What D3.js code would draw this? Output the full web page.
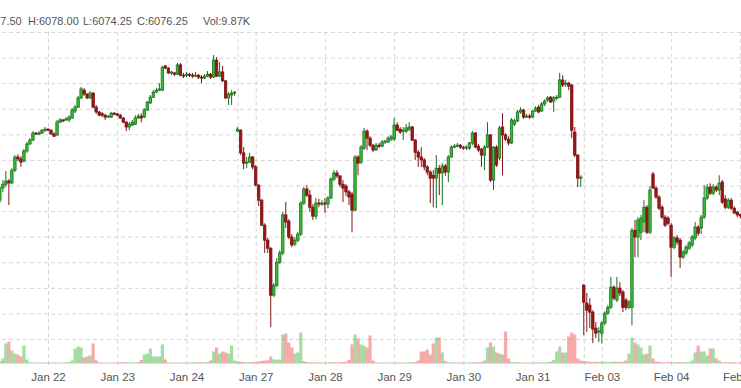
<!DOCTYPE html>
<html lang="en">
<head>
<meta charset="UTF-8">
<title>ES 1h</title>
<script src="https://cdn.jsdelivr.net/npm/d3@7/dist/d3.min.js"></script>
<style>
    html, body { margin: 0; padding: 0; background: #fff; }
    svg { display: block; font-family: Arial, "Liberation Sans", sans-serif; }
    .grid line { stroke: #d6d6d6; stroke-dasharray: 4,3; }
    .grid path { display: none; }
    .xlabels path, .xlabels line { display: none; }
    .xlabels text { fill: #555; font-size: 11.5px; }
    .legend { fill: #555; font-size: 11px; }
</style>
</head>
<body>
<svg width="741" height="388"></svg>
<script>
// trading hours (ET) of each session block
var jan21Hours = [7, 8, 9, 10, 11, 12, 13, 14, 15, 16];
var dayHours = [0, 1, 2, 3, 4, 5, 6, 7, 8, 9, 10, 11, 12, 13, 14, 15, 16];
var eveHours = [18, 19, 20, 21, 22, 23];
var lastHours = [0];

var sessions = [
    ['2025-01-21', jan21Hours], ['2025-01-21', eveHours],
    ['2025-01-22', dayHours], ['2025-01-22', eveHours],
    ['2025-01-23', dayHours], ['2025-01-23', eveHours],
    ['2025-01-24', dayHours],
    ['2025-01-26', eveHours],
    ['2025-01-27', dayHours], ['2025-01-27', eveHours],
    ['2025-01-28', dayHours], ['2025-01-28', eveHours],
    ['2025-01-29', dayHours], ['2025-01-29', eveHours],
    ['2025-01-30', dayHours], ['2025-01-30', eveHours],
    ['2025-01-31', dayHours],
    ['2025-02-02', eveHours],
    ['2025-02-03', dayHours], ['2025-02-03', eveHours],
    ['2025-02-04', dayHours], ['2025-02-04', eveHours],
    ['2025-02-05', lastHours]
];

var opens = [
    6088.5, 6098, 6101, 6103.5, 6102, 6112, 6122.25, 6120.75, 6119, 6127,
    6132.5, 6135.5, 6141, 6140.25, 6141, 6143.25,
    6144, 6143.25, 6140.25, 6139.5, 6149.5, 6151.25, 6151.25, 6151.25, 6152.75, 6158.25, 6161.25, 6168.5, 6174.5, 6171.5, 6168.5, 6172.25, 6161.25,
    6157.5, 6156, 6155, 6153.5, 6153.5, 6156.5,
    6156, 6155, 6152.75, 6149.5, 6145.75, 6147.25, 6148, 6152.75, 6154.25, 6153.5, 6159, 6164.5, 6169, 6173, 6174.5, 6174.5, 6193.5,
    6191.75, 6188, 6188, 6187, 6194.25, 6186.25,
    6186.25, 6187, 6186.25, 6185.5, 6186.25, 6184.75, 6184, 6185.5, 6187, 6184.75, 6198, 6185.5, 6188.75, 6181.75, 6168.5, 6170.75, 6172.25,
    6142.5, 6143.25, 6125.5, 6117.5, 6118.25, 6122.25,
    6114.5, 6100.25, 6088.5, 6069, 6057.25, 6051, 6014.25, 6022, 6040, 6047.25, 6077, 6072.25, 6059.75, 6054.25, 6057.25, 6062, 6086.25,
    6097.25, 6092.5, 6083, 6076, 6086.25, 6085.5,
    6086.25, 6085.5, 6090.25, 6105, 6109.75, 6107.5, 6101, 6099.5, 6095, 6093.25, 6080.75, 6122.25, 6118.25, 6129.25, 6142.5, 6137, 6131.5,
    6127.75, 6131.5, 6130.75, 6134, 6134, 6136.25,
    6136.25, 6147.25, 6144, 6142.5, 6142.5, 6144, 6145.75, 6135.5, 6126, 6122.25, 6120, 6114.5, 6110.5, 6108, 6105.75, 6113.5, 6109.75,
    6115.25, 6110.5, 6122.25, 6130, 6130.75, 6131.5,
    6130, 6129.25, 6129.25, 6133.25, 6141, 6130.75, 6128.5, 6123.75, 6130, 6139.5, 6104.25, 6130, 6121.5, 6145.75, 6139.5, 6136.25, 6133.25,
    6148, 6150.5, 6157.5, 6159, 6153.5, 6154.25,
    6153.5, 6158.25, 6161.25, 6158.25, 6163.75, 6166.75, 6169, 6166, 6168.5, 6169, 6182.5, 6179.25, 6180, 6178.5, 6141.75, 6123.75, 6105.75,
    6022, 6008, 6006.5, 6001, 5988.5, 5985.5,
    5984.5, 5992.5, 6000.25, 6004.75, 6020.5, 6010.5, 6019.75, 6016.75, 6010.5, 6004.75, 6004.75, 6065, 6059.75, 6063.5, 6071.5, 6083, 6063.5,
    6109, 6098, 6091, 6083, 6075.25, 6074.5,
    6069, 6051.75, 6059, 6057.25, 6044, 6047.25, 6051, 6053.5, 6059, 6067.5, 6066.75, 6075.25, 6090.25, 6098.75, 6094, 6098.75, 6096.5,
    6102.75, 6089.5, 6083, 6088.5, 6082.25, 6079.25,
    6077.5
];

var highs = [
    6099.5, 6104.25, 6111.25, 6105, 6113.5, 6123.75, 6124.5, 6123, 6128.5, 6134,
    6137, 6142.5, 6141.75, 6142.5, 6144, 6145.75,
    6145, 6144, 6141.75, 6151.25, 6152.75, 6152, 6153.5, 6155, 6160.5, 6163, 6170, 6177, 6176.25, 6172.25, 6173.75, 6173, 6163,
    6158.25, 6157.5, 6156, 6155, 6157.5, 6157.5,
    6156.5, 6156, 6153.5, 6150.5, 6149.5, 6151.25, 6155, 6156, 6156.5, 6160.5, 6166, 6170.75, 6174.5, 6176.25, 6180, 6193.5, 6194.25,
    6192.5, 6189.5, 6188.75, 6195.75, 6195.75, 6188,
    6188.75, 6188, 6188, 6188.75, 6187, 6186.25, 6187, 6189.5, 6188, 6202, 6200.5, 6196.5, 6193.5, 6182.5, 6173, 6174.5, 6173.75,
    6145.75, 6144, 6130, 6122.25, 6125.5, 6123,
    6116, 6101, 6089.5, 6070.5, 6059, 6051.75, 6023.75, 6043.25, 6049.5, 6079.25, 6087, 6073.75, 6062, 6059.75, 6063.5, 6087.75, 6098.75,
    6100.25, 6096.5, 6085.5, 6090.25, 6089.5, 6088.5,
    6090.25, 6091.75, 6106.5, 6112, 6112, 6108, 6104.25, 6101, 6096.5, 6095, 6123.75, 6123.75, 6131.5, 6145, 6144, 6138.5, 6132.5,
    6133.25, 6133.25, 6135.5, 6135.5, 6138.5, 6139.5,
    6152.75, 6149.5, 6145.75, 6145.75, 6148, 6149.5, 6146.5, 6136.25, 6127.75, 6130, 6121.5, 6116, 6112, 6112, 6123.75, 6116, 6117.5,
    6116.75, 6123.75, 6131.5, 6132.5, 6133.25, 6132.5,
    6130.75, 6131.5, 6134, 6142.5, 6141.75, 6132.5, 6129.25, 6131.5, 6149.5, 6140.25, 6130.75, 6131.5, 6146.5, 6156.5, 6141, 6138.5, 6152.75,
    6152, 6159, 6161.25, 6159.75, 6156, 6156,
    6159, 6162, 6163, 6165.25, 6167.5, 6170, 6170, 6170, 6170.75, 6188, 6186.25, 6182.5, 6181, 6179.25, 6145.75, 6124.5, 6108,
    6023, 6016, 6012, 6002.5, 5993.25, 5989.25,
    5994, 6001.75, 6006.5, 6028.5, 6022, 6028.5, 6024.5, 6018.25, 6012, 6010.5, 6066.75, 6073, 6075.25, 6077, 6088.5, 6084.75, 6099.5,
    6110.5, 6099.5, 6092.5, 6084.75, 6077, 6076,
    6070.5, 6060.5, 6061.25, 6059, 6049.5, 6053.5, 6056.5, 6061.25, 6071.5, 6069, 6077, 6100.25, 6101, 6101.75, 6101, 6100.25, 6108,
    6104.25, 6092.5, 6090.25, 6090.25, 6083.75, 6080,
    6078
];

var lows = [
    6086.25, 6095, 6098.75, 6084.75, 6101, 6110.5, 6119, 6114.5, 6118.25, 6125.5,
    6131.5, 6134.75, 6139.5, 6139.5, 6140.25, 6141.75,
    6142.5, 6139.5, 6138, 6138.5, 6148.75, 6149.5, 6150.5, 6149.5, 6152, 6156.5, 6160.5, 6167.5, 6170, 6167.5, 6167.5, 6160.5, 6156,
    6154.25, 6153.5, 6151.25, 6152.75, 6152.75, 6155,
    6154.25, 6152, 6148.75, 6142.5, 6143.25, 6146.5, 6147.25, 6152, 6149.5, 6152.75, 6158.25, 6163.75, 6168.5, 6172.25, 6173.75, 6173.75, 6191,
    6187, 6186.25, 6185.5, 6186.25, 6185.5, 6184,
    6184.75, 6184.75, 6184, 6184.75, 6183.25, 6180, 6183.25, 6184.75, 6183.25, 6184, 6184.75, 6184.75, 6181, 6167.5, 6163, 6163, 6170,
    6141.75, 6123.75, 6112.75, 6113.5, 6117.5, 6112.75,
    6099.5, 6084, 6068.25, 6047.25, 6047.25, 5989.25, 6012.75, 6020.5, 6038.5, 6045.5, 6066.75, 6058, 6051.75, 6052.5, 6055.75, 6060.5, 6084.75,
    6091, 6079.25, 6073, 6073.75, 6083, 6084,
    6078.5, 6082.25, 6089.5, 6103.5, 6105.75, 6098.75, 6087, 6091.75, 6084.75, 6063.5, 6080, 6108, 6116.75, 6127.75, 6127.75, 6130, 6126,
    6127, 6129.25, 6130, 6132.5, 6133.25, 6134.75,
    6134.75, 6142.5, 6140.25, 6135.5, 6141, 6142.5, 6134.75, 6120, 6114.5, 6114.5, 6112, 6108, 6086.25, 6083, 6082.25, 6092.5, 6084.75,
    6107.5, 6102.75, 6121.5, 6129.25, 6130, 6128.5,
    6127.75, 6127.75, 6127.75, 6131.5, 6129.25, 6126, 6114.5, 6112, 6129.25, 6102.75, 6096.5, 6114.5, 6120, 6108, 6134.75, 6131.5, 6132.5,
    6146.5, 6149.5, 6156, 6152, 6152.75, 6152,
    6152.75, 6157.5, 6156.5, 6157.5, 6162, 6165.25, 6164.5, 6157.5, 6166.75, 6168.5, 6177, 6177, 6174.5, 6137, 6122.25, 6098.75, 6098.75,
    5983, 5985.5, 5988.5, 5976.75, 5980.75, 5977.5,
    5976.75, 5990.75, 5998.75, 6003.5, 6010.5, 6008.75, 6013.5, 6001, 6002.5, 6003.5, 5990.75, 6044, 6044, 6057.25, 6063.5, 6062, 6062,
    6097.25, 6089.5, 6080.75, 6073.75, 6067.5, 6069,
    6028.5, 6050.25, 6053.5, 6035.5, 6042.5, 6045.5, 6049.5, 6051.75, 6057.25, 6060.5, 6062, 6073.75, 6088.5, 6092.5, 6092.5, 6095, 6092.5,
    6085.5, 6081.5, 6081.5, 6080.75, 6077.75, 6075.25,
    6074.25
];

var closes = [
    6098, 6101, 6103.5, 6102, 6112, 6122.25, 6120.75, 6118.25, 6127, 6132.5,
    6135.5, 6141, 6140.25, 6141, 6143.25, 6144,
    6143.25, 6140.25, 6138.5, 6149.5, 6151.25, 6150.5, 6152, 6153.5, 6159, 6161.25, 6168.5, 6175.5, 6171.5, 6168.5, 6172.25, 6161.25, 6157.5,
    6155, 6155, 6153.5, 6154.25, 6156.5, 6156,
    6155, 6152.75, 6149.5, 6145.75, 6148, 6149.5, 6152.75, 6154.25, 6152.75, 6159, 6165.25, 6169, 6173, 6174.5, 6175.5, 6192.5, 6191.75,
    6188, 6188.75, 6187, 6194.25, 6186.25, 6185.5,
    6187, 6186.25, 6185.5, 6186.25, 6184.75, 6184, 6185.5, 6187, 6184.75, 6198, 6185.5, 6188.75, 6181.75, 6168.5, 6171.5, 6172.25, 6173,
    6144, 6125.5, 6117.5, 6118.25, 6122.25, 6114.5,
    6100.25, 6088.5, 6069, 6057.25, 6051, 6014.25, 6022, 6040, 6047.25, 6077, 6071.5, 6059.75, 6053.5, 6057.25, 6062, 6086.25, 6097.25,
    6092.5, 6083, 6076, 6086.25, 6085.5, 6086.25,
    6085.5, 6090.25, 6105, 6109.75, 6107.5, 6101, 6098, 6095, 6091, 6080.75, 6122.25, 6117.5, 6130, 6142.5, 6137, 6131.5, 6127.75,
    6131.5, 6130.75, 6134, 6134.75, 6137, 6138,
    6147.25, 6143.25, 6141.75, 6143.25, 6145, 6145.75, 6135.5, 6126, 6122.25, 6120, 6114.5, 6110.5, 6105.75, 6105.75, 6113.5, 6109.75, 6115.25,
    6110.5, 6122.25, 6130, 6130.75, 6131.5, 6130,
    6129.25, 6130, 6133.25, 6141, 6130, 6127.75, 6123.75, 6130, 6139.5, 6104.25, 6130, 6116, 6145, 6139.5, 6136.25, 6133.25, 6151.25,
    6150.5, 6157.5, 6159, 6153.5, 6154.25, 6153.5,
    6158.25, 6160.5, 6157.5, 6163.75, 6166, 6168.5, 6165.25, 6168.5, 6169, 6182.5, 6178.5, 6180, 6177.75, 6143.25, 6123.75, 6105.75, 6106.5,
    6008.75, 6002.5, 6001, 5987.75, 5984.5, 5986.25,
    5992.5, 6000.25, 6004.75, 6020.5, 6012, 6019.75, 6016, 6004.75, 6004.75, 6008.75, 6065, 6059.75, 6073, 6074.5, 6083, 6063.5, 6096.5,
    6098, 6091, 6082.25, 6075.25, 6069, 6070.5,
    6051.75, 6059, 6055.75, 6044, 6048, 6051.75, 6055, 6059.75, 6067.5, 6062.75, 6075.25, 6090.25, 6098.75, 6094, 6098.75, 6096.5, 6101.75,
    6087, 6083, 6088.5, 6082.25, 6078.5, 6077,
    6076.25
];

// volume in thousands of contracts
var volumes = [
    20, 40, 160, 176, 104, 80, 72, 56, 144, 32,
    10, 9, 8, 7, 8, 9,
    8, 7, 9, 8, 6, 7, 9, 12, 24, 120, 136, 128, 48, 56, 64, 160, 24,
    9, 8, 7, 8, 6, 8,
    7, 9, 10, 11, 9, 8, 10, 12, 28, 72, 80, 120, 56, 56, 56, 152, 32,
    9, 8, 8, 7, 9, 8,
    8, 7, 8, 9, 10, 12, 9, 11, 24, 96, 128, 80, 96, 88, 80, 144, 24,
    16, 14, 12, 10, 11, 12,
    12, 16, 20, 24, 24, 56, 32, 32, 32, 232, 240, 168, 128, 80, 88, 248, 20,
    12, 10, 9, 10, 8, 9,
    9, 8, 10, 11, 9, 10, 12, 14, 28, 152, 232, 200, 152, 144, 128, 224, 24,
    9, 8, 8, 7, 8, 9,
    8, 9, 8, 7, 9, 10, 11, 12, 24, 96, 96, 112, 72, 160, 208, 208, 88,
    20, 10, 9, 8, 8, 9,
    8, 7, 9, 8, 10, 9, 12, 24, 128, 168, 136, 88, 80, 72, 256, 40, 12,
    10, 9, 8, 9, 8, 7,
    8, 9, 8, 10, 9, 11, 14, 28, 96, 136, 88, 88, 216, 248, 232, 40, 24,
    20, 16, 14, 12, 14, 12,
    16, 14, 12, 12, 16, 14, 12, 14, 24, 80, 208, 168, 152, 128, 72, 80, 144,
    40, 16, 12, 10, 9, 10,
    10, 9, 12, 11, 10, 9, 11, 24, 88, 144, 96, 96, 64, 120, 120, 40, 24,
    10, 9, 8, 9, 10, 8,
    9.87
];

var priceTicks = [5980, 6000, 6020, 6040, 6060, 6080, 6100, 6120, 6140, 6160, 6180, 6200, 6220];

var parseDay = d3.timeParse('%Y-%m-%d'),
    fmtDay = d3.timeFormat('%b %d'),
    times = [];

sessions.forEach(function(s) {
    var d = parseDay(s[0]);
    s[1].forEach(function(h) {
        times.push(new Date(d.getFullYear(), d.getMonth(), d.getDate(), h));
    });
});

var n = times.length;
if (n !== opens.length || n !== highs.length || n !== lows.length || n !== closes.length || n !== volumes.length) {
    console.error('length mismatch', n, opens.length, highs.length, lows.length, closes.length, volumes.length);
}

var W = 741,
    plotTop = 32,
    plotBottom = 365,
    volBase = 363.5;

var svg = d3.select('svg'),
    idx = d3.range(n);

var x = d3.scaleLinear().domain([0, n - 1]).range([-0.16, 740.3]);
var y = d3.scaleLinear().domain([5980, 6220]).range([339, 32]);
var yVol = d3.scaleLinear().domain([0, 264]).range([volBase, volBase - 33]);

// date boundaries
var bounds = idx.filter(function(i) {
    return i > 0 && d3.timeDay.floor(times[i]).getTime() !== d3.timeDay.floor(times[i - 1]).getTime();
});
var labelIdx = bounds.filter(function(b, j) {
    return j === bounds.length - 1 || x(bounds[j + 1]) - x(b) > 30;
});

svg.append('g')
    .attr('class', 'grid')
    .attr('transform', 'translate(' + W + ',0)')
    .call(d3.axisLeft(y).tickValues(priceTicks).tickSize(W).tickFormat(''));

svg.append('g')
    .attr('class', 'grid')
    .attr('transform', 'translate(0,' + plotBottom + ')')
    .call(d3.axisBottom(x).tickValues(bounds).tickSize(-(plotBottom - plotTop)).tickFormat(''));

svg.append('g')
    .attr('class', 'xlabels')
    .attr('transform', 'translate(0,369)')
    .call(d3.axisBottom(x).tickValues(labelIdx).tickSize(0).tickPadding(4)
        .tickFormat(function(i) { return fmtDay(times[i]); }));

function isUp(i) { return closes[i] >= opens[i]; }

// volume
svg.append('g')
    .selectAll('rect')
    .data(idx)
    .join('rect')
    .attr('x', function(i) { return x(i) - 1.6; })
    .attr('width', 3.2)
    .attr('y', function(i) { return yVol(volumes[i]); })
    .attr('height', function(i) { return volBase - yVol(volumes[i]); })
    .attr('fill', function(i) { return isUp(i) ? '#4cbb4c' : '#ee5a5a'; })
    .attr('fill-opacity', 0.5);

// candles
var candles = svg.append('g');

candles.selectAll('line')
    .data(idx)
    .join('line')
    .attr('x1', function(i) { return x(i); })
    .attr('x2', function(i) { return x(i); })
    .attr('y1', function(i) { return y(highs[i]); })
    .attr('y2', function(i) { return y(lows[i]); })
    .attr('stroke', function(i) { return isUp(i) ? '#1c6e1c' : '#801616'; })
    .attr('stroke-width', 1);

candles.selectAll('rect')
    .data(idx)
    .join('rect')
    .attr('x', function(i) { return x(i) - 1.2; })
    .attr('width', 2.4)
    .attr('y', function(i) { return y(Math.max(opens[i], closes[i])); })
    .attr('height', function(i) { return Math.max(1, Math.abs(y(opens[i]) - y(closes[i]))); })
    .attr('fill', function(i) { return isUp(i) ? '#36c036' : '#9c1616'; })
    .attr('stroke', function(i) { return isUp(i) ? '#1c6e1c' : '#7a1212'; })
    .attr('stroke-width', 0.8);

// legend for last bar
var last = n - 1,
    legendItems = [
        ['O:' + opens[last].toFixed(2), -29.7],
        ['H:' + highs[last].toFixed(2), 28],
        ['L:' + lows[last].toFixed(2), 83],
        ['C:' + closes[last].toFixed(2), 137],
        ['Vol:' + volumes[last].toFixed(2) + 'K', 203]
    ];

svg.append('g')
    .selectAll('text')
    .data(legendItems)
    .join('text')
    .attr('class', 'legend')
    .attr('x', function(d) { return d[1]; })
    .attr('y', 24.5)
    .text(function(d) { return d[0]; });
</script>
</body>
</html>
